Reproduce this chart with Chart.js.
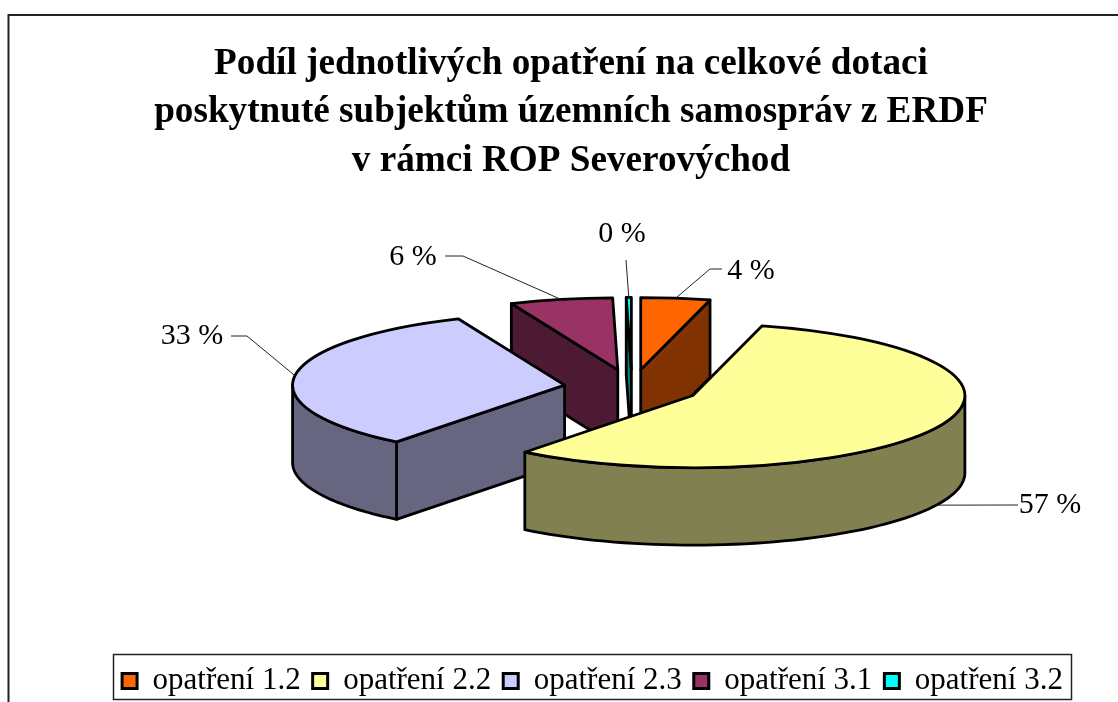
<!DOCTYPE html>
<html><head><meta charset="utf-8">
<style>html,body{margin:0;padding:0;background:#fff}canvas{display:block}</style>
<script src="https://cdn.jsdelivr.net/npm/chart.js@4/dist/chart.umd.min.js"></script>
</head><body>
<div style="width:1118px;height:702px"><canvas id="c" width="1118" height="702"></canvas></div>
<script>
// --- data ---
const categories = ['opatření 1.2','opatření 2.2','opatření 2.3','opatření 3.1','opatření 3.2'];
const shares = [4.1, 56.5, 33.0, 6.1, 0.3];
const titleLines = ['Podíl jednotlivých opatření na celkové dotaci',
  'poskytnuté subjektům územních samospráv z ERDF','v rámci ROP Severovýchod'];
// --- styles ---
const topColors  = ['#FF6600','#FFFF99','#CCCCFF','#993366','#00FFFF'];
const sideColors = ['#803300','#808050','#666680','#4D1A33','#008080'];
const FONT = '"Liberation Serif","Times New Roman",serif';
const PIE = {cx:632, cy:387.5, r:272, tilt:0.265, depth:77.5, explode:68};
const LABEL_AT  = [[751,269],[1050,503],[192,334],[413,255],[622,232]];
const LEADER_ELBOW = [[[710,269],[722,269]],[[1018,505]],[[247,336],[231,336]],[[463,256],[445,256]],[[626,260]]];
const FRAME = {x:8.5,y:15,w:1130,h:720};
const LEGEND_BOX = {x:113.5,y:654.5,w:958,h:45};

function geom(arc){
  const mid=(arc.startAngle+arc.endAngle)/2;
  const ax=PIE.cx+PIE.explode*Math.cos(mid), ay=PIE.cy+PIE.explode*Math.sin(mid)*PIE.tilt;
  return {mid,ax,ay,
    pt:(t)=>[ax+arc.outerRadius*Math.cos(t), ay+arc.outerRadius*Math.sin(t)*PIE.tilt]};
}
function withTransform(ctx,arc,g,fn){
  ctx.save();
  ctx.translate(g.ax,g.ay);ctx.scale(1,PIE.tilt);ctx.translate(-arc.x,-arc.y);
  fn();ctx.restore();
}
function face(ctx,pts,color){
  ctx.beginPath();pts.forEach((p,i)=>i?ctx.lineTo(p[0],p[1]):ctx.moveTo(p[0],p[1]));ctx.closePath();
  ctx.fillStyle=color;ctx.fill();ctx.stroke();
}
function paintSlice(ctx,arc,i){
  const g=geom(arc),s=arc.startAngle,e=arc.endAngle,d=PIE.depth;
  ctx.lineWidth=2.8;ctx.strokeStyle='#000';ctx.lineJoin='round';
  const cut=(t)=>{const p=g.pt(t);face(ctx,[[g.ax,g.ay],p,[p[0],p[1]+d],[g.ax,g.ay+d]],sideColors[i]);};
  if(Math.cos(s)<-1e-6)cut(s);
  if(Math.cos(e)>1e-6)cut(e);
  const a=Math.max(s,0),b=Math.min(e,Math.PI);
  if(b>a){
    const pts=[];const n=60;
    for(let k=0;k<=n;k++)pts.push(g.pt(a+(b-a)*k/n));
    for(let k=n;k>=0;k--){const p=g.pt(a+(b-a)*k/n);pts.push([p[0],p[1]+d]);}
    face(ctx,pts,sideColors[i]);
  }
  withTransform(ctx,arc,g,()=>arc.draw(ctx));
  ctx.save();
  withTransform(ctx,arc,g,()=>{
    ctx.beginPath();ctx.moveTo(arc.x,arc.y);
    ctx.arc(arc.x,arc.y,arc.outerRadius,s,e);ctx.closePath();
  });
  ctx.stroke();ctx.restore();
}
const pie3d={
  id:'pie3d',
  afterLayout(chart){
    const t=chart.titleBlock,l=chart.legend;
    t.left=0;t.right=1142;t.top=64.5-t.options.font.size*t.options.font.lineHeight/2;
    t.bottom=t.top+t.height;
    l.left=60;l.right=1125;l.width=l.right-l.left;
    l.top=653.5;l.bottom=LEGEND_BOX.y+LEGEND_BOX.h;
  },
  beforeDraw(chart){
    const c=chart.ctx;c.save();c.fillStyle='#fff';c.fillRect(0,0,chart.width,chart.height);
    c.strokeStyle='#222';c.lineWidth=2;c.strokeRect(FRAME.x,FRAME.y,FRAME.w,FRAME.h);
    c.strokeStyle='#222';c.lineWidth=1.5;c.strokeRect(LEGEND_BOX.x,LEGEND_BOX.y,LEGEND_BOX.w,LEGEND_BOX.h);
    c.restore();
  },
  beforeDatasetDraw(chart,args){
    const ctx=chart.ctx,arcs=args.meta.data;
    ctx.save();
    const order=arcs.map((a,i)=>i).sort((p,q)=>
      Math.sin((arcs[p].startAngle+arcs[p].endAngle)/2)-Math.sin((arcs[q].startAngle+arcs[q].endAngle)/2));
    order.forEach(i=>paintSlice(ctx,arcs[i],i));
    arcs.forEach((arc,i)=>{
      const g=geom(arc);const p=g.pt(g.mid);
      const y=p[1]+(Math.sin(g.mid)>0?PIE.depth:0);
      ctx.beginPath();ctx.moveTo(p[0],y);
      LEADER_ELBOW[i].forEach(q=>ctx.lineTo(q[0],q[1]));
      ctx.lineWidth=1;ctx.strokeStyle='#222';ctx.stroke();
      ctx.fillStyle='#000';ctx.font='30px '+FONT;ctx.textAlign='center';ctx.textBaseline='middle';
      ctx.fillText(Math.round(shares[i])+' %',LABEL_AT[i][0],LABEL_AT[i][1]+2);
    });
    ctx.restore();
    return false;
  }
};
new Chart(document.getElementById('c'),{
  type:'pie',
  data:{labels:categories,datasets:[{data:shares,backgroundColor:topColors,borderWidth:0,clip:false}]},
  options:{
    responsive:false,animation:false,
    radius:PIE.r,rotation:0,
    plugins:{
      tooltip:{enabled:false},
      title:{display:true,text:titleLines,color:'#000',align:'center',padding:0,
        font:{family:FONT,size:37.2,weight:'bold',lineHeight:1.3}},
      legend:{display:true,position:'bottom',align:'center',
        labels:{font:{family:FONT,size:31},color:'#000',boxWidth:15,boxHeight:15,padding:12,
          generateLabels:(ch)=>categories.map((t,i)=>({text:t,fillStyle:topColors[i],strokeStyle:'#000',lineWidth:3,index:i}))}}
    }
  },
  plugins:[pie3d]
});
</script>
</body></html>
